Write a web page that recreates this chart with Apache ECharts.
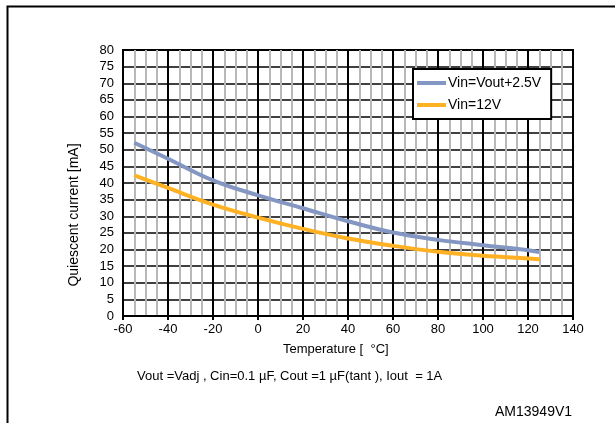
<!DOCTYPE html>
<html><head><meta charset="utf-8">
<script src="https://cdn.jsdelivr.net/npm/echarts@6/dist/echarts.min.js"></script>
<style>html,body{margin:0;padding:0;background:#fff}#c{width:615px;height:423px}</style>
</head><body><div id="c"></div>
<script>
const temps = [-55, -40, -20, 0, 20, 40, 60, 80, 100, 120, 125];
const seriesNames = ['Vin=Vout+2.5V', 'Vin=12V'];
const vinVout25 = [52.1, 47.3, 40.8, 36.3, 32.4, 28.5, 25.1, 22.9, 21.3, 19.8, 19.2];
const vin12 = [42.3, 38.5, 33.5, 29.6, 26.2, 23.3, 21.1, 19.3, 18.1, 17.3, 17.1];
const xTitle = 'Temperature [  °C]';
const yTitle = 'Quiescent current [mA]';
const note = 'Vout =Vadj , Cin=0.1 µF, Cout =1 µF(tant ), Iout  = 1A';
const code = 'AM13949V1';

const chart = echarts.init(document.getElementById('c'));
const font = 'Liberation Sans, Arial, sans-serif';
chart.setOption({
  animation: false,
  backgroundColor: '#fff',
  textStyle: {fontFamily: font},
  grid: {left: 123, top: 50, right: 42, bottom: 107, show: true, borderColor: '#000', borderWidth: 2},
  legend: {
    orient: 'vertical', left: 413, top: 69,
    backgroundColor: '#fff',
    borderColor: '#000', borderWidth: 2, borderRadius: 0,
    padding: [7, 10, 7, 4], itemGap: 8, itemWidth: 29, itemHeight: 4,
    icon: 'rect',
    textStyle: {fontFamily: font, fontSize: 14, color: '#000', padding: [0, 0, 0, -3]},
    data: seriesNames
  },
  xAxis: {
    type: 'value', min: -60, max: 140, interval: 20,
    axisLine: {lineStyle: {color: '#000', width: 2}},
    axisTick: {show: true, lineStyle: {color: '#000', width: 2}, length: 4},
    axisLabel: {color: '#000', fontSize: 13, fontFamily: font, margin: 7},
    splitLine: {show: true, lineStyle: {color: '#000', width: 2}},
    minorTick: {show: false, splitNumber: 4},
    minorSplitLine: {show: true, lineStyle: {color: '#b8b8b8', width: 2}}
  },
  yAxis: {
    type: 'value', min: 0, max: 80, interval: 5,
    axisLine: {show: true, lineStyle: {color: '#000', width: 2}},
    axisTick: {show: false},
    axisLabel: {color: '#000', fontSize: 13, fontFamily: font, margin: 9},
    splitLine: {show: true, lineStyle: {color: '#000', width: 1.5}}
  },
  series: [
    {name: seriesNames[0], type: 'line', smooth: 0.4, symbol: 'none',
     lineStyle: {color: '#8497c2', width: 4}, itemStyle: {color: '#8497c2'},
     data: temps.map((t, i) => [t, vinVout25[i]])},
    {name: seriesNames[1], type: 'line', smooth: 0.4, symbol: 'none',
     lineStyle: {color: '#ffb124', width: 4}, itemStyle: {color: '#ffb124'},
     data: temps.map((t, i) => [t, vin12[i]])}
  ],
  graphic: [
    {type: 'rect', left: 5, top: 4, shape: {width: 700, height: 500},
     style: {fill: null, stroke: '#000', lineWidth: 2}, silent: true, z: -1},
    {type: 'text', left: 283, top: 343, style: {text: xTitle, font: '13px ' + font, fill: '#000'}},
    {type: 'text', x: 74, y: 215, rotation: Math.PI / 2, style: {text: yTitle, font: '14px ' + font, fill: '#000', align: 'center', verticalAlign: 'middle'}},
    {type: 'text', left: 137, top: 370, style: {text: note, font: '13px ' + font, fill: '#000'}},
    {type: 'text', left: 495, top: 405, style: {text: code, font: '14px ' + font, fill: '#000'}}
  ]
});
</script></body></html>
